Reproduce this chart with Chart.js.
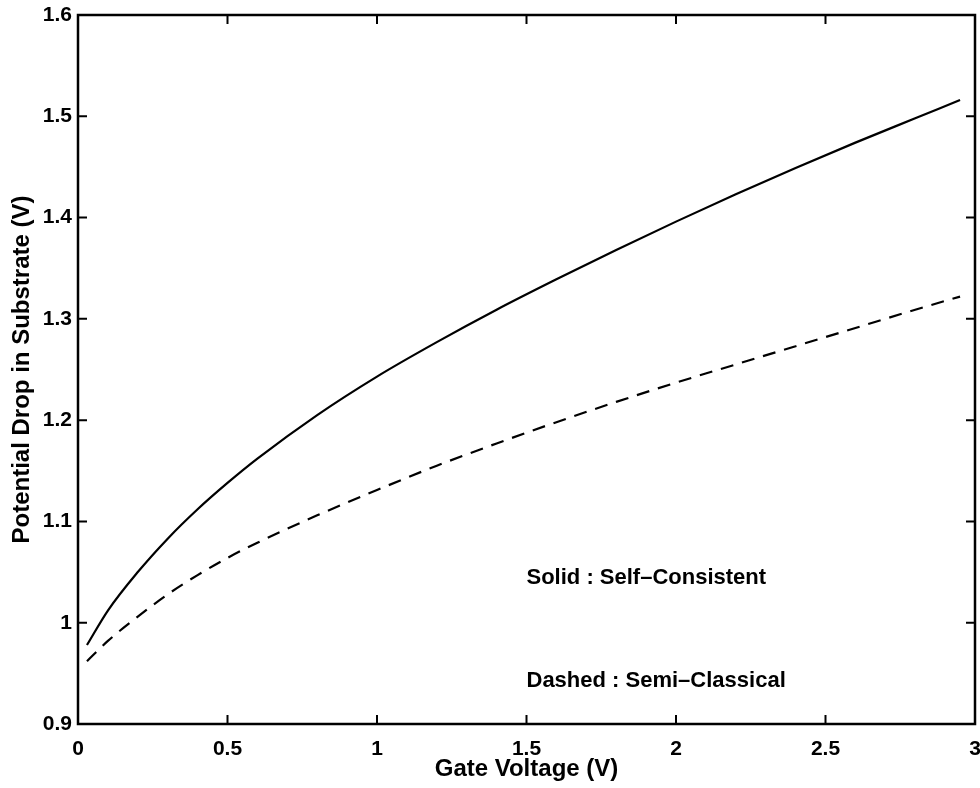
<!DOCTYPE html>
<html>
<head>
<meta charset="utf-8">
<script src="https://cdn.jsdelivr.net/npm/chart.js@4.4.0/dist/chart.umd.min.js"></script>
<style>
  html, body { margin: 0; padding: 0; background: #fff; }
  #wrap { width: 980px; height: 788px; }
</style>
</head>
<body>
<div id="wrap"><canvas id="chart" width="980" height="788"></canvas></div>
<script>
// Gate voltage (V)
const gateVoltage = [0.03, 0.1, 0.2, 0.3, 0.4, 0.5, 0.6, 0.8, 1.0, 1.2, 1.4, 1.6, 1.8, 2.0, 2.2, 2.4, 2.6, 2.8, 2.95];
// Potential drop in substrate (V)
const selfConsistent = [0.978, 1.012, 1.050, 1.083, 1.112, 1.138, 1.162, 1.205, 1.243, 1.277, 1.309, 1.339, 1.368, 1.396, 1.423, 1.449, 1.474, 1.498, 1.516];
const semiClassical = [0.962, 0.982, 1.006, 1.028, 1.047, 1.064, 1.079, 1.106, 1.131, 1.155, 1.177, 1.198, 1.218, 1.237, 1.255, 1.273, 1.291, 1.309, 1.322];

const notes = [
    { text: 'Solid : Self\u2013Consistent', x: 1.5, y: 1.044 },
    { text: 'Dashed : Semi\u2013Classical', x: 1.5, y: 0.943 }
];

const FONT = '"Liberation Sans", Arial, Helvetica, sans-serif';

function toPoints(ys) {
    return gateVoltage.map((x, i) => ({ x: x, y: ys[i] }));
}

function plainNumber(v) {
    return String(Math.round(v * 10) / 10);
}

// frame, inward ticks on all four sides, and the text notes
const framePlugin = {
    id: 'frame',
    afterDatasetsDraw(chart) {
        const { ctx, chartArea: a, scales } = chart;
        const len = 9;
        ctx.save();
        ctx.strokeStyle = '#000';
        ctx.lineWidth = 2.5;
        ctx.strokeRect(a.left, a.top, a.right - a.left, a.bottom - a.top);

        ctx.lineWidth = 2;
        ctx.beginPath();
        scales.x.ticks.forEach(t => {
            const px = scales.x.getPixelForValue(t.value);
            ctx.moveTo(px, a.bottom); ctx.lineTo(px, a.bottom - len);
            ctx.moveTo(px, a.top); ctx.lineTo(px, a.top + len);
        });
        scales.y.ticks.forEach(t => {
            const py = scales.y.getPixelForValue(t.value);
            ctx.moveTo(a.left, py); ctx.lineTo(a.left + len, py);
            ctx.moveTo(a.right, py); ctx.lineTo(a.right - len, py);
        });
        ctx.stroke();

        ctx.fillStyle = '#000';
        ctx.font = 'bold 22px ' + FONT;
        ctx.textAlign = 'left';
        ctx.textBaseline = 'middle';
        notes.forEach(n => {
            ctx.fillText(n.text, scales.x.getPixelForValue(n.x), scales.y.getPixelForValue(n.y));
        });
        ctx.restore();
    }
};

new Chart(document.getElementById('chart'), {
    type: 'line',
    data: {
        datasets: [
            {
                label: 'Solid : Self-Consistent',
                data: toPoints(selfConsistent),
                borderColor: '#000',
                borderWidth: 2.2,
                pointRadius: 0,
                cubicInterpolationMode: 'monotone'
            },
            {
                label: 'Dashed : Semi-Classical',
                data: toPoints(semiClassical),
                borderColor: '#000',
                borderWidth: 2.2,
                borderDash: [13, 9],
                pointRadius: 0,
                cubicInterpolationMode: 'monotone'
            }
        ]
    },
    options: {
        responsive: false,
        animation: false,
        layout: { padding: { top: 15, right: 5, left: 0, bottom: 0 } },
        plugins: {
            legend: { display: false },
            tooltip: { enabled: false }
        },
        scales: {
            x: {
                type: 'linear',
                min: 0,
                max: 3,
                grid: { display: false, drawTicks: false },
                border: { display: false },
                ticks: {
                    stepSize: 0.5,
                    color: '#000',
                    padding: 13,
                    maxRotation: 0,
                    font: { family: FONT, size: 21, weight: 'bold' },
                    callback: plainNumber
                },
                title: {
                    display: true,
                    text: 'Gate Voltage (V)',
                    color: '#000',
                    padding: { top: 0, bottom: 4 },
                    font: { family: FONT, size: 24, weight: 'bold' }
                },
                afterFit(scale) {
                    scale.height = 64;
                    scale.paddingLeft = 0;
                    scale.paddingRight = 0;
                }
            },
            y: {
                min: 0.9,
                max: 1.6,
                grid: { display: false, drawTicks: false },
                border: { display: false },
                ticks: {
                    stepSize: 0.1,
                    color: '#000',
                    padding: 6,
                    font: { family: FONT, size: 21, weight: 'bold' },
                    callback: plainNumber
                },
                title: {
                    display: true,
                    text: 'Potential Drop in Substrate (V)',
                    color: '#000',
                    padding: { top: 8, bottom: 0 },
                    font: { family: FONT, size: 24, weight: 'bold' }
                },
                afterFit(scale) {
                    scale.width = 78;
                    scale.paddingTop = 0;
                    scale.paddingBottom = 0;
                }
            }
        }
    },
    plugins: [framePlugin]
});
</script>
</body>
</html>
